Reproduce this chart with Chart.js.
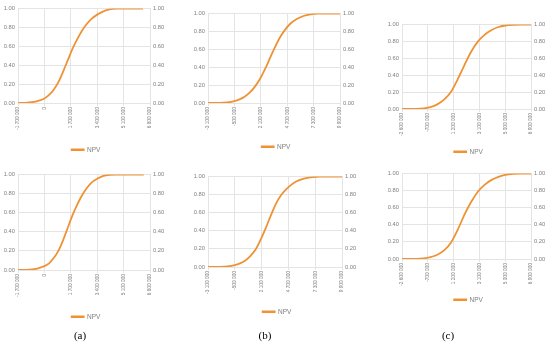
<!DOCTYPE html>
<html>
<head>
<meta charset="utf-8">
<script src="https://cdn.jsdelivr.net/npm/chart.js@4.4.0/dist/chart.umd.min.js"></script>
<style>
  body { margin: 0; background: #fff; width: 550px; height: 346px; position: relative; overflow: hidden; }
  canvas { position: absolute; }
  .cap { position: absolute; top: 329px; font-family: 'Liberation Serif', serif; font-size: 11px; color: #000; transform: translateX(-50%); }
</style>
</head>
<body>
<canvas id="a1"></canvas>
<canvas id="b1"></canvas>
<canvas id="c1"></canvas>
<canvas id="a2"></canvas>
<canvas id="b2"></canvas>
<canvas id="c2"></canvas>
<div class="cap" style="left:80px">(a)</div>
<div class="cap" style="left:265px">(b)</div>
<div class="cap" style="left:448px">(c)</div>
<script>
const seriesName = 'NPV'
const yTicks = [0, 0.2, 0.4, 0.6, 0.8, 1]
const ticksA = [-1700000, 0, 1700000, 3400000, 5100000, 6800000]
const ticksB = [-3100000, -500000, 2100000, 4700000, 7300000, 9900000]
const ticksC = [-2600000, -700000, 1200000, 3100000, 5000000, 6900000]

// cumulative probability of NPV
const xA1 = [-1700000, -1200000, -800000, -400000, 0, 300000, 600000, 900000, 1200000, 1500000, 1800000, 2100000, 2400000, 2700000, 3000000, 3400000, 3800000, 4200000, 4600000, 5400000, 6350000]
const yA1 = [0, 0.002, 0.008, 0.022, 0.048, 0.085, 0.14, 0.22, 0.33, 0.45, 0.57, 0.67, 0.76, 0.83, 0.885, 0.935, 0.97, 0.99, 0.998, 1, 1]
const xA2 = [-1700000, -1200000, -800000, -400000, 0, 300000, 600000, 900000, 1200000, 1500000, 1800000, 2100000, 2400000, 2700000, 3000000, 3400000, 3800000, 4200000, 4600000, 5400000, 6400000]
const yA2 = [0, 0.002, 0.007, 0.018, 0.04, 0.07, 0.125, 0.2, 0.31, 0.44, 0.57, 0.68, 0.775, 0.85, 0.91, 0.955, 0.985, 0.997, 1, 1, 1]
const xB1 = [-3100000, -2000000, -1200000, -500000, 0, 500000, 1000000, 1500000, 2000000, 2500000, 3000000, 3500000, 4000000, 4500000, 5000000, 5600000, 6300000, 7000000, 7800000, 8600000, 9900000]
const yB1 = [0, 0.001, 0.006, 0.02, 0.04, 0.07, 0.115, 0.18, 0.265, 0.375, 0.5, 0.625, 0.735, 0.82, 0.885, 0.935, 0.972, 0.99, 0.998, 1, 1]
const xB2 = [-3100000, -2000000, -1200000, -500000, 0, 500000, 1000000, 1500000, 2000000, 2500000, 3000000, 3500000, 4000000, 4500000, 5000000, 5500000, 6200000, 7000000, 7800000, 8600000, 9900000]
const yB2 = [0, 0.001, 0.006, 0.02, 0.04, 0.07, 0.12, 0.19, 0.3, 0.43, 0.57, 0.7, 0.795, 0.86, 0.91, 0.947, 0.977, 0.993, 1, 1, 1]
const xC1 = [-2600000, -1600000, -1000000, -500000, 0, 500000, 1000000, 1500000, 2000000, 2500000, 3000000, 3500000, 4000000, 4500000, 5000000, 5600000, 6200000, 6900000]
const yC1 = [0, 0.002, 0.008, 0.022, 0.055, 0.11, 0.2, 0.35, 0.52, 0.68, 0.8, 0.88, 0.935, 0.97, 0.988, 0.997, 1, 1]
const xC2 = [-2600000, -1600000, -1000000, -500000, 0, 500000, 1000000, 1500000, 2000000, 2500000, 3000000, 3500000, 4000000, 4500000, 5000000, 5600000, 6200000, 6900000]
const yC2 = [0, 0.002, 0.008, 0.022, 0.05, 0.1, 0.19, 0.34, 0.52, 0.67, 0.79, 0.87, 0.925, 0.96, 0.985, 0.997, 1, 1]

const orange = '#ef9234'
const gridColor = '#e4e4e4'
const tickFont = { size: 5.8 }
const xFont = { size: 4.8 }
const legendFont = { size: 6.5 }
const legendPad = 4

Chart.defaults.font.family = "'Liberation Sans', Arial, sans-serif"
Chart.defaults.color = '#808080'

// plot-area boxes on the page (left, right, top, bottom) and legend centre
const panels = [
  { id: 'a1', xs: xA1, ys: yA1, ticks: ticksA, l: 18, r: 150, t: 7, b: 103, ly: 150 },
  { id: 'b1', xs: xB1, ys: yB1, ticks: ticksB, l: 208, r: 340, t: 12, b: 103, ly: 147 },
  { id: 'c1', xs: xC1, ys: yC1, ticks: ticksC, l: 402, r: 531, t: 23, b: 109, ly: 152 },
  { id: 'a2', xs: xA2, ys: yA2, ticks: ticksA, l: 18, r: 150, t: 173, b: 270, ly: 317 },
  { id: 'b2', xs: xB2, ys: yB2, ticks: ticksB, l: 208, r: 342, t: 175, b: 267, ly: 312 },
  { id: 'c2', xs: xC2, ys: yC2, ticks: ticksC, l: 402, r: 531, t: 172, b: 259, ly: 300 }
]

function spaced(v) {
  const s = String(Math.abs(v)).replace(/\B(?=(\d{3})+(?!\d))/g, ' ')
  return (v < 0 ? '-' : '') + s
}

function setTicks(values) {
  return scale => { scale.ticks = values.map(v => ({ value: v })) }
}

panels.forEach(p => {
  const leftW = 18, rightW = 22, padTop = 5
  const cv = document.getElementById(p.id)
  const cl = p.l - leftW
  const ct = p.t - padTop
  const w = p.r - cl + rightW
  const h = Math.round(p.ly + legendFont.size / 2 + 10 - ct)
  const legendH = legendFont.size + legendPad + 10
  const xH = h - legendH - (p.b - ct)
  cv.width = w
  cv.height = h
  cv.style.left = cl + 'px'
  cv.style.top = ct + 'px'
  cv.style.width = w + 'px'
  cv.style.height = h + 'px'

  new Chart(cv, {
    type: 'line',
    data: {
      datasets: [{
        label: seriesName,
        data: p.xs.map((x, i) => ({ x: x, y: p.ys[i] })),
        borderColor: orange,
        backgroundColor: orange,
        borderWidth: 1.8,
        pointRadius: 0,
        fill: false,
        cubicInterpolationMode: 'monotone',
        yAxisID: 'y'
      }]
    },
    options: {
      responsive: false,
      animation: false,
      devicePixelRatio: 1,
      layout: { padding: { top: padTop, left: 0, right: 0, bottom: 0 } },
      plugins: {
        tooltip: { enabled: false },
        legend: {
          position: 'bottom',
          labels: { boxWidth: 12, boxHeight: 0.5, padding: legendPad, font: legendFont, color: '#808080' }
        }
      },
      scales: {
        x: {
          type: 'linear',
          min: p.ticks[0],
          max: p.ticks[p.ticks.length - 1],
          afterBuildTicks: setTicks(p.ticks),
          afterFit: s => { s.height = xH },
          grid: { color: gridColor, tickLength: 3 },
          border: { color: gridColor },
          ticks: { autoSkip: false, minRotation: 90, maxRotation: 90, padding: 1, font: xFont, callback: v => spaced(v) }
        },
        y: {
          position: 'left',
          min: 0,
          max: 1,
          afterBuildTicks: setTicks(yTicks),
          afterFit: s => { s.width = leftW },
          grid: { color: gridColor, drawTicks: false },
          border: { color: gridColor },
          ticks: { padding: 3, font: tickFont, callback: v => v.toFixed(2) }
        },
        y2: {
          position: 'right',
          min: 0,
          max: 1,
          afterBuildTicks: setTicks(yTicks),
          afterFit: s => { s.width = rightW },
          grid: { drawOnChartArea: false, drawTicks: false },
          border: { color: gridColor },
          ticks: { padding: 3, font: tickFont, callback: v => v.toFixed(2) }
        }
      }
    }
  })
})
</script>
</body>
</html>
